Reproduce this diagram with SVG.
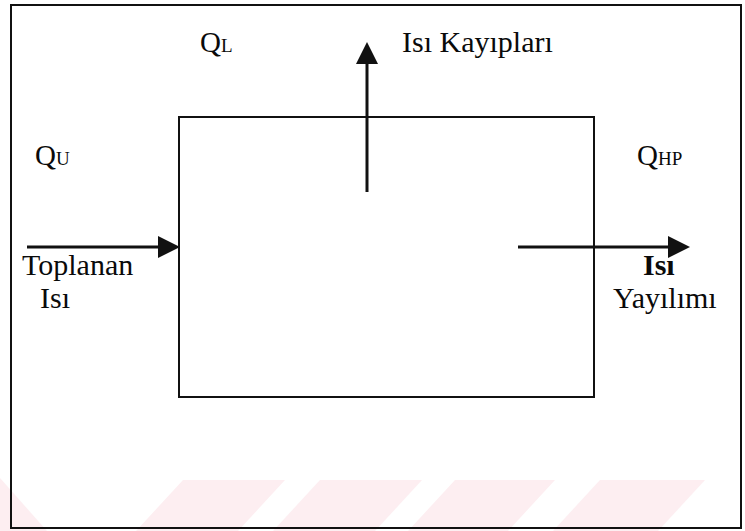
<svg xmlns="http://www.w3.org/2000/svg" width="745" height="531" viewBox="0 0 745 531">
  <style>
    .t { font-family: "Liberation Serif", "Times New Roman", serif; font-size: 30px; fill: #0a0a0a; }
    .q { font-family: "Liberation Serif", "Times New Roman", serif; font-size: 29px; fill: #0a0a0a; }
    .sub { font-size: 19px; }
    .frame { fill: none; stroke: #111; stroke-width: 2; }
    .conn { fill: none; stroke: #111; stroke-width: 3; }
    .wm { fill: #fdeef1; }
  </style>
  <defs>
    <marker id="head" markerUnits="userSpaceOnUse" markerWidth="23" markerHeight="22" refX="9" refY="11" orient="auto">
      <path d="M0,0 L22,11 L0,22 z" fill="#111"/>
    </marker>
  </defs>
  <rect width="745" height="531" fill="#fff"/>
  <g id="watermark">
    <polygon class="wm" points="0,478 47,531 0,531"/>
    <polygon class="wm" points="183,480 285,480 238,531 136,531"/>
    <polygon class="wm" points="320,480 422,480 375,531 273,531"/>
    <polygon class="wm" points="455,480 555,480 508,531 408,531"/>
    <polygon class="wm" points="600,480 705,480 658,531 553,531"/>
  </g>
  <g id="outer-frame">
    <rect class="frame" x="11" y="5" width="730" height="523"/>
  </g>
  <g id="system-box">
    <rect class="frame" x="179" y="117" width="415" height="280"/>
  </g>
  <g id="connectors">
    <line class="conn" x1="27" y1="247" x2="167" y2="247" marker-end="url(#head)"/>
    <line class="conn" x1="367" y1="192" x2="367" y2="55" marker-end="url(#head)"/>
    <line class="conn" x1="518" y1="247" x2="677" y2="247" marker-end="url(#head)"/>
  </g>
  <g id="label-QL">
    <text class="q" x="200" y="52">Q<tspan class="sub">L</tspan></text>
  </g>
  <g id="label-losses">
    <text class="t" x="402" y="52">Isı Kayıpları</text>
  </g>
  <g id="label-QU">
    <text class="q" x="35" y="165">Q<tspan class="sub">U</tspan></text>
  </g>
  <g id="label-QHP">
    <text class="q" x="637" y="165">Q<tspan class="sub">HP</tspan></text>
  </g>
  <g id="label-collected">
    <text class="t" x="22" y="275">Toplanan</text>
    <text class="t" x="40" y="308">Isı</text>
  </g>
  <g id="label-dissipation">
    <text class="t" x="643" y="275" font-weight="bold">Isı</text>
    <text class="t" x="613" y="308">Yayılımı</text>
  </g>
</svg>
